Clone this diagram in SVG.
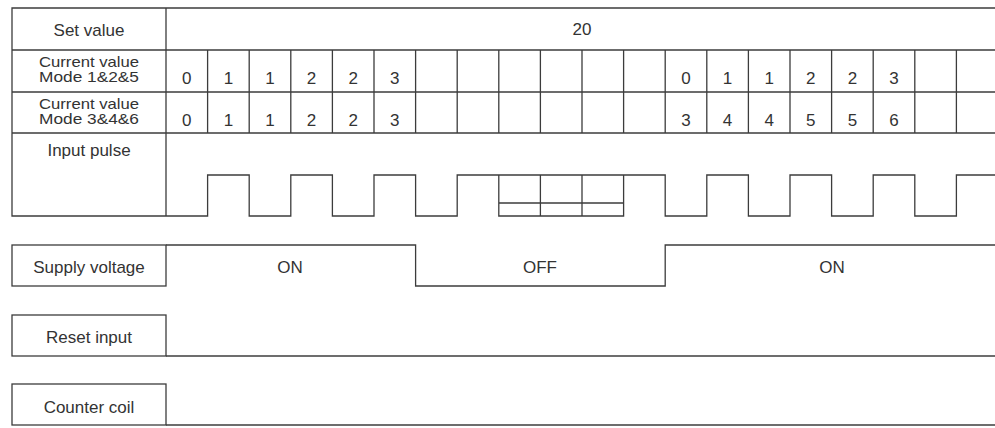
<svg xmlns="http://www.w3.org/2000/svg" width="995" height="428" viewBox="0 0 995 428">
<style>
.ln{fill:none;stroke:#3c3c3c;stroke-width:1.3}
.bx{fill:#fff;stroke:#3c3c3c;stroke-width:1.3}
text{font-family:"Liberation Sans",Arial,sans-serif;font-size:17px;fill:#333;text-anchor:middle}
.two{font-size:14.5px}
</style>
<rect width="995" height="428" fill="#fff"/>
<g id="table-frame" class="ln">
<path d="M995,8 H12 V216 H166 M166,8 V216 M12,50 H995 M12,92 H995 M12,133 H995"/>
<path d="M207.6,50 V133 M249.2,50 V133 M290.8,50 V133 M332.4,50 V133 M374,50 V133 M415.6,50 V133 M457.2,50 V133 M498.8,50 V133 M540.4,50 V133 M582,50 V133 M623.6,50 V133 M665.2,50 V133 M706.8,50 V133 M748.4,50 V133 M790,50 V133 M831.6,50 V133 M873.2,50 V133 M914.8,50 V133 M956.4,50 V133"/>
</g>
<g id="row-set-value">
<text x="89" y="36">Set value</text>
<text x="582" y="35">20</text>
</g>
<g id="row-mode125">
<text class="two" x="89" y="67" textLength="100" lengthAdjust="spacingAndGlyphs">Current value</text>
<text class="two" x="89" y="82" textLength="100" lengthAdjust="spacingAndGlyphs">Mode 1&amp;2&amp;5</text>
<text x="186.8" y="84">0</text><text x="228.4" y="84">1</text><text x="270" y="84">1</text><text x="311.6" y="84">2</text><text x="353.2" y="84">2</text><text x="394.8" y="84">3</text>
<text x="686" y="84">0</text><text x="727.6" y="84">1</text><text x="769.2" y="84">1</text><text x="810.8" y="84">2</text><text x="852.4" y="84">2</text><text x="894" y="84">3</text>
</g>
<g id="row-mode346">
<text class="two" x="89" y="109" textLength="100" lengthAdjust="spacingAndGlyphs">Current value</text>
<text class="two" x="89" y="124" textLength="100" lengthAdjust="spacingAndGlyphs">Mode 3&amp;4&amp;6</text>
<text x="186.8" y="126">0</text><text x="228.4" y="126">1</text><text x="270" y="126">1</text><text x="311.6" y="126">2</text><text x="353.2" y="126">2</text><text x="394.8" y="126">3</text>
<text x="686" y="126">3</text><text x="727.6" y="126">4</text><text x="769.2" y="126">4</text><text x="810.8" y="126">5</text><text x="852.4" y="126">5</text><text x="894" y="126">6</text>
</g>
<g id="row-input-pulse">
<text x="89" y="156">Input pulse</text>
</g>
<g id="supply-voltage">
<rect class="bx" x="12" y="245" width="154" height="41"/>
<text x="89" y="273">Supply voltage</text>
<text x="290" y="273">ON</text>
<text x="540" y="273">OFF</text>
<text x="832" y="273">ON</text>
</g>
<g id="reset-input">
<rect class="bx" x="12" y="315" width="154" height="41"/>
<text x="89" y="343">Reset input</text>
</g>
<g id="counter-coil">
<rect class="bx" x="12" y="384" width="154" height="41"/>
<text x="89" y="413">Counter coil</text>
</g>
<g id="connectors" class="ln">
<path d="M166,216 H207.6 V175 H249.2 V216 H290.8 V175 H332.4 V216 H374 V175 H415.6 V216 H457.2 V175 H665.2 V216 H706.8 V175 H748.4 V216 H790 V175 H831.6 V216 H873.2 V175 H914.8 V216 H956.4 V175 H995"/>
<path d="M498.8,175 V216 H623.6 V175 M498.8,203 H623.6 M540.4,175 V216 M582,175 V216"/>
<path d="M166,245 H415.6 V286 H665.2 V245 H995"/>
<path d="M166,356 H995"/>
<path d="M166,425 H995"/>
</g>
</svg>
